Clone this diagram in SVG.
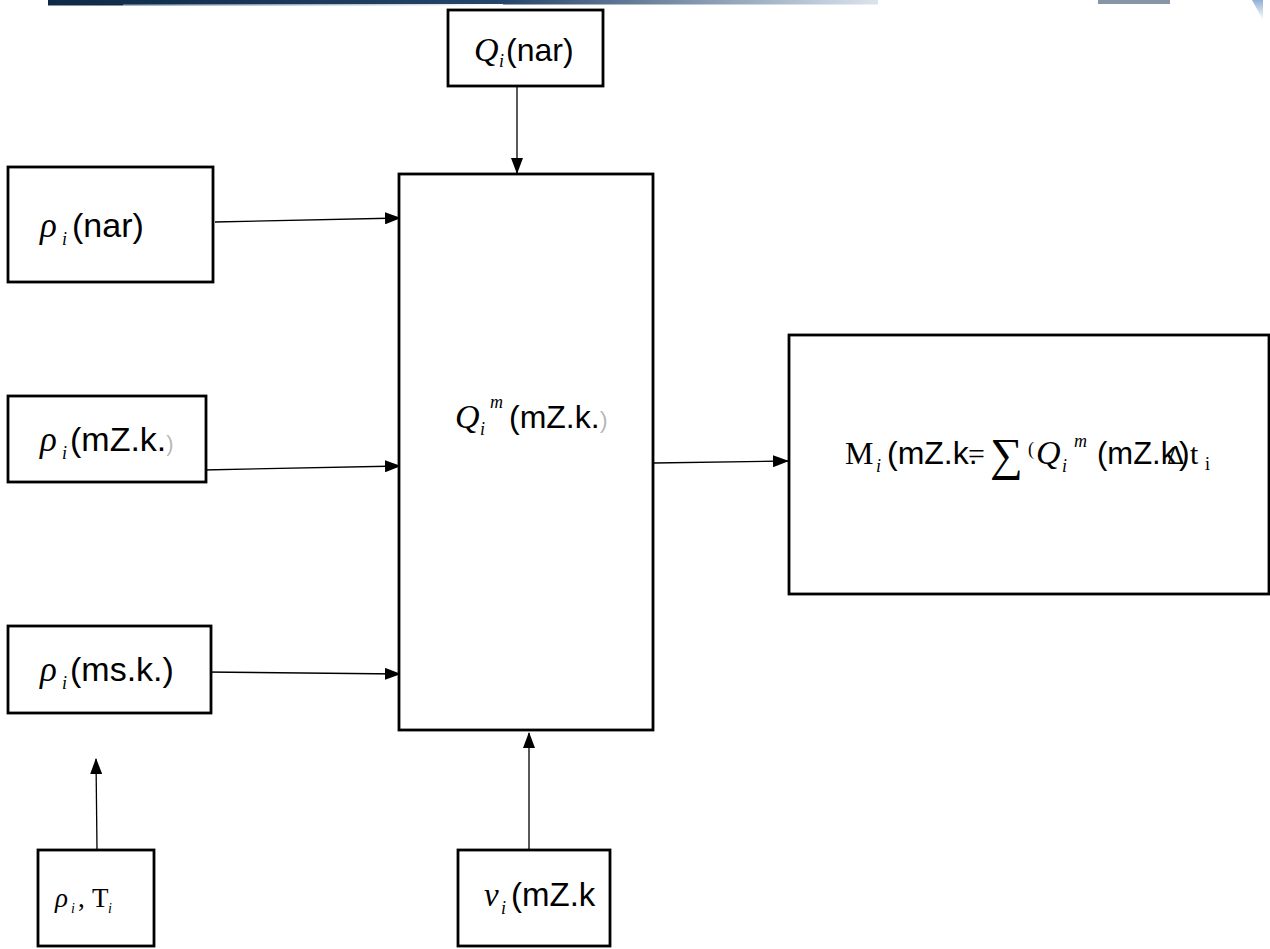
<svg xmlns="http://www.w3.org/2000/svg" width="1270" height="949" viewBox="0 0 1270 949">
  <defs>
    <marker id="arrow" markerWidth="16" markerHeight="12" refX="15" refY="6" orient="auto" markerUnits="userSpaceOnUse">
      <path d="M0,0 L16,6 L0,12 Z" fill="#000"/>
    </marker>
    <linearGradient id="bannerFade" x1="0" y1="0" x2="1" y2="0">
      <stop offset="0" stop-color="#0f2a47"/>
      <stop offset="0.55" stop-color="#26456a"/>
      <stop offset="1" stop-color="#dbe4ee"/>
    </linearGradient>
    <linearGradient id="bannerLow" x1="0" y1="0" x2="1" y2="0">
      <stop offset="0" stop-color="#4c6a8a"/>
      <stop offset="1" stop-color="#ffffff"/>
    </linearGradient>
    <linearGradient id="cornerFade" x1="0" y1="0" x2="0" y2="1">
      <stop offset="0" stop-color="#8fb0d6"/>
      <stop offset="1" stop-color="#ffffff"/>
    </linearGradient>
  </defs>
  <style>
    .box { fill: #fff; stroke: #000; stroke-width: 2.8; }
    .wire { fill: none; stroke: #000; stroke-width: 1.3; marker-end: url(#arrow); }
    .sans { font-family: "Liberation Sans", Arial, sans-serif; fill: #000; }
    .serif { font-family: "Liberation Serif", "Times New Roman", serif; fill: #000; }
    .it { font-style: italic; }
  </style>

  <rect width="1270" height="949" fill="#fff"/>

  <!-- header strip -->
  <g id="header">
    <rect x="48" y="0" width="830" height="4.5" fill="url(#bannerFade)"/>
    <rect x="48" y="4" width="75" height="1.5" fill="#0f2a47"/>
    <rect x="123" y="4" width="380" height="1.5" fill="url(#bannerLow)"/>
    <rect x="1098" y="0" width="72" height="4" fill="#8795a6"/>
    <polygon points="1252,0 1263,0 1263,20" fill="url(#cornerFade)"/>
  </g>

  <!-- connectors -->
  <g id="connectors">
    <line class="wire" x1="517" y1="86" x2="517" y2="173"/>
    <line class="wire" x1="215" y1="222" x2="400" y2="218"/>
    <line class="wire" x1="203" y1="470" x2="400" y2="466"/>
    <line class="wire" x1="205" y1="672" x2="400" y2="674"/>
    <line class="wire" x1="97" y1="849" x2="96" y2="759"/>
    <line class="wire" x1="529" y1="850" x2="529" y2="733"/>
    <line class="wire" x1="654" y1="463" x2="788" y2="461"/>
  </g>

  <g id="node-q-nar">
    <rect class="box" x="448" y="10" width="155" height="76"/>
    <text class="serif it" x="474" y="61" font-size="34">Q</text>
    <text class="serif it" x="499" y="67" font-size="18">i</text>
    <text class="sans" x="506" y="61" font-size="32">(nar)</text>
  </g>

  <g id="node-rho-nar">
    <rect class="box" x="8" y="167" width="205" height="115"/>
    <text class="serif it" x="40" y="237" font-size="35">ρ</text>
    <text class="serif it" x="62" y="245" font-size="18">i</text>
    <text class="sans" x="72" y="237" font-size="34">(nar)</text>
  </g>

  <g id="node-rho-mzk">
    <rect class="box" x="8" y="396" width="198" height="86"/>
    <text class="serif it" x="40" y="451" font-size="35">ρ</text>
    <text class="serif it" x="62" y="459" font-size="18">i</text>
    <text class="sans" x="70" y="451" font-size="34">(mZ.k.<tspan fill-opacity="0.3" font-size="22">)</tspan></text>
  </g>

  <g id="node-rho-msk">
    <rect class="box" x="8" y="626" width="203" height="87"/>
    <text class="serif it" x="40" y="681" font-size="35">ρ</text>
    <text class="serif it" x="62" y="689" font-size="18">i</text>
    <text class="sans" x="70" y="681" font-size="34">(ms.k.)</text>
  </g>

  <g id="node-rho-t">
    <rect class="box" x="38" y="850" width="116" height="96"/>
    <text class="serif it" x="55" y="907" font-size="27">ρ</text>
    <text class="serif it" x="71" y="913" font-size="14">i</text>
    <text class="serif" x="78" y="907" font-size="27">,</text>
    <text class="serif" x="92" y="907" font-size="27">T</text>
    <text class="serif it" x="108" y="913" font-size="14">i</text>
  </g>

  <g id="node-nu">
    <rect class="box" x="458" y="850" width="152" height="96"/>
    <text class="serif it" x="484" y="906" font-size="33">ν</text>
    <text class="serif it" x="501" y="914" font-size="18">i</text>
    <text class="sans" x="511" y="906" font-size="33">(mZ.k</text>
  </g>

  <g id="node-flow">
    <rect class="box" x="399" y="174" width="254" height="556"/>
    <text class="serif it" x="455" y="428" font-size="34">Q</text>
    <text class="serif it" x="480" y="435" font-size="18">i</text>
    <text class="serif it" x="490" y="408" font-size="18">m</text>
    <text class="sans" x="509" y="428" font-size="32">(mZ.k.<tspan fill-opacity="0.3" font-size="24">)</tspan></text>
  </g>

  <g id="node-mass">
    <rect class="box" x="789" y="335" width="480" height="259"/>
    <text class="serif" y="464" font-size="32"><tspan x="845">M</tspan><tspan class="it" x="876" y="472" font-size="18">i</tspan><tspan class="sans" x="887" y="464">(mZ.k.</tspan><tspan x="968" font-size="30">=</tspan><tspan x="990" y="470" font-size="46">∑</tspan><tspan x="1028" y="455" font-size="18">(</tspan><tspan class="it" x="1036" y="464" font-size="34">Q</tspan><tspan class="it" x="1062" y="472" font-size="18">i</tspan><tspan class="it" x="1074" y="447" font-size="18">m</tspan><tspan class="sans" x="1097" y="464" font-size="31">(mZ.k</tspan><tspan x="1167" font-size="27">Δ</tspan><tspan class="sans" x="1179">)</tspan><tspan x="1190" font-size="30">t</tspan><tspan x="1205" y="470" font-size="18">i</tspan></text>
  </g>
</svg>
